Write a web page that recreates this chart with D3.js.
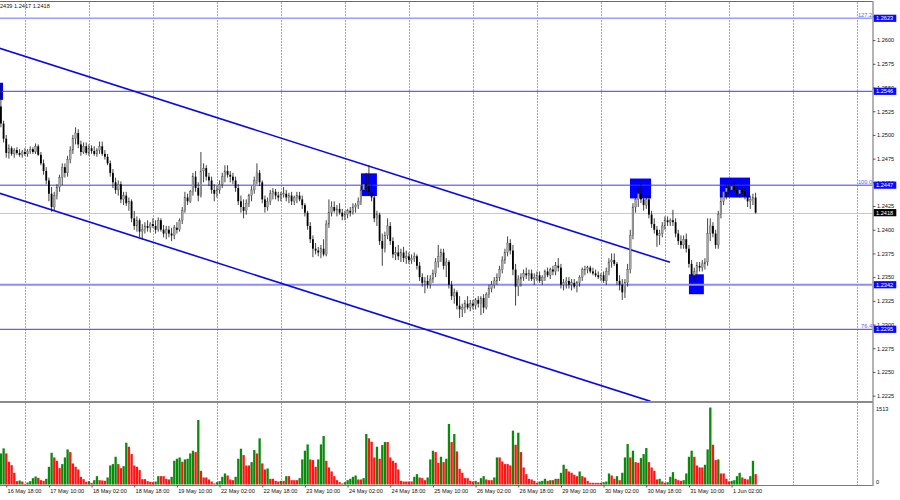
<!DOCTYPE html>
<html><head><meta charset="utf-8">
<script src="https://cdn.jsdelivr.net/npm/d3@7/dist/d3.min.js"></script>
<style>
body{margin:0;background:#fff;}
svg{display:block;}
text{font-family:"Liberation Sans",Arial,sans-serif;}
</style>
</head><body>
<svg id="c" width="900" height="500"></svg>
<script>
// ---------- DATA (prices given as pips above BASE: price = BASE + v/10000) ----------
const BASE = 1.2;
const openP = [
530,512,496,481,486,480,484,481,479,482, 480,483,485,482,488,479,470,462,452,438,
424,436,445,455,466,460,474,484,496,502, 490,482,488,481,486,483,480,484,488,480,
477,470,460,450,442,448,432,436,428,430, 412,404,410,398,400,404,402,406,404,400,
410,400,396,400,396,394,402,400,410,420, 434,430,440,456,444,436,462,465,456,452,
442,438,442,448,456,462,458,456,452,444, 430,424,420,428,436,442,452,460,450,432,
424,430,438,440,436,434,437,438,434,436, 430,434,436,432,426,418,404,390,380,378,
376,380,374,406,418,424,420,422,418,414, 416,420,418,424,426,430,442,448,446,440,
434,412,416,388,380,394,404,388,374,376, 372,376,370,372,368,370,372,362,350,344,
346,342,348,354,366,372,376,362,366,342, 330,334,320,316,318,322,318,322,320,326,
322,328,318,332,338,342,346,350,358,368, 376,386,378,358,340,348,350,354,352,354,
348,350,352,346,350,356,352,358,356,362, 360,342,344,346,342,344,340,344,350,358,
358,360,356,354,352,350,352,346,356,366, 368,364,346,342,334,344,358,394,424,432,
438,432,426,432,416,406,400,394,396,404, 410,408,410,408,396,388,384,390,380,364,
352,356,362,360,364,366,396,404,396,384, 416,430,440,444,442,446,442,438,442,440,
436,430,432,434];
const highP = [
552,515,500,490,488,486,487,485,484,486, 485,488,487,491,490,482,474,466,455,445,
440,448,458,470,470,478,488,500,508,506, 494,492,492,490,489,488,486,493,493,484,
480,473,464,455,452,451,440,440,434,432, 420,414,412,406,408,410,408,412,410,413,
412,405,404,404,402,405,408,412,424,440, 438,442,460,462,450,482,470,468,460,456,
448,446,452,460,468,468,462,460,456,448, 436,432,432,438,446,456,470,463,452,436,
434,442,444,443,440,440,445,442,439,440, 436,440,440,436,428,420,408,394,386,382,
384,390,410,432,430,430,426,428,422,420, 422,424,428,428,434,446,452,460,468,448,
436,420,418,396,398,412,408,392,382,384, 380,382,378,376,374,376,374,366,354,350,
352,352,358,370,384,380,380,370,368,346, 338,336,330,322,326,330,326,326,328,330,
330,332,334,342,346,350,354,362,372,380, 393,390,384,364,352,354,358,360,358,358,
354,356,356,352,358,360,360,362,366,370, 364,348,350,350,348,348,346,352,360,362,
362,362,360,358,356,354,356,360,370,375, 375,366,352,348,348,364,400,428,438,444,
448,440,436,436,420,412,404,400,408,414, 414,412,421,412,400,394,394,396,384,368,
360,366,366,368,370,412,412,408,400,420, 436,446,448,450,448,450,446,446,446,444,
440,436,438,439];
const lowP = [
508,492,476,475,478,476,479,477,476,478, 477,480,480,480,478,468,458,448,430,419,
420,432,440,447,455,456,470,480,490,486, 478,480,479,478,480,478,477,480,478,474,
468,456,444,438,436,428,426,425,420,408, 400,398,392,390,396,398,397,402,396,398,
398,392,390,392,388,390,396,398,406,418, 426,428,436,440,430,434,450,452,446,438,
430,434,438,444,450,455,450,448,440,426, 418,412,416,424,430,438,448,446,428,418,
420,426,432,432,430,430,434,430,428,426, 426,428,430,422,414,400,386,371,374,372,
370,372,372,402,414,418,414,416,410,410, 412,414,416,418,422,426,438,440,436,430,
408,404,384,362,376,390,384,370,368,368, 366,366,364,364,364,366,358,346,340,333,
338,338,344,350,360,366,358,350,338,326, 322,316,307,308,312,316,314,316,316,318,
310,312,316,328,334,338,342,346,354,364, 372,374,352,320,330,340,346,348,346,346,
342,346,344,342,346,350,348,352,352,356, 338,336,338,338,336,338,334,340,346,352,
354,354,352,350,348,346,344,342,352,360, 362,342,336,326,328,340,354,390,418,424,
428,420,422,412,402,396,382,384,392,400, 404,404,404,392,384,380,380,376,360,346,
346,352,356,356,358,362,388,392,380,380, 412,426,432,438,436,440,434,434,436,432,
424,422,426,417];
const closeP = [
512,496,481,486,480,484,481,479,482,480, 483,485,482,488,479,470,462,452,438,424,
436,445,455,466,460,474,484,496,502,490, 482,488,481,486,483,480,484,488,480,477,
470,460,450,442,448,432,436,428,430,412, 404,410,398,400,404,402,406,404,400,410,
400,396,400,396,394,402,400,410,420,434, 430,440,456,444,436,462,465,456,452,442,
438,442,448,456,462,458,456,452,444,430, 424,420,428,436,442,452,460,450,432,424,
430,438,440,436,434,437,438,434,436,430, 434,436,432,426,418,404,390,380,378,376,
380,374,406,418,424,420,422,418,414,416, 420,418,424,426,430,442,448,446,440,434,
412,416,388,380,394,404,388,374,376,372, 376,370,372,368,370,372,362,350,344,346,
342,348,354,366,372,376,362,366,342,330, 334,320,316,318,322,318,322,320,326,322,
328,318,332,338,342,346,350,358,368,376, 386,378,358,340,348,350,354,352,354,348,
350,352,346,350,356,352,358,356,362,360, 342,344,346,342,344,340,344,350,358,358,
360,356,354,352,350,352,346,356,366,368, 364,346,342,334,344,358,394,424,432,438,
432,426,432,416,406,400,394,396,404,410, 408,410,408,396,388,384,390,380,364,352,
356,362,360,364,366,396,404,396,384,416, 430,440,444,442,446,442,438,442,440,436,
430,432,434,418];
const volumes = [
611,710,611,447,381,230,66,79,59,13, 39,66,125,158,131,85,72,112,348,624,
532,466,322,401,532,690,637,414,348,296, 151,105,53,66,33,85,164,85,79,72,
138,374,401,545,401,322,361,821,742,598, 374,348,283,105,105,66,53,46,59,164,
164,164,112,99,151,466,506,532,447,493, 506,611,664,637,1268,269,138,138,99,59,
20,46,66,151,217,177,99,85,151,506, 703,578,374,374,440,677,611,907,414,296,
315,112,112,72,59,72,72,164,164,85, 85,85,125,493,664,788,493,480,348,493,
788,953,466,335,256,164,85,46,20,46, 85,112,151,177,99,99,125,992,907,841,
532,742,506,775,834,834,532,466,427,296, 72,59,59,59,59,151,204,138,125,85,
138,493,664,637,427,545,440,506,1189,834, 992,650,309,230,125,125,72,59,72,46,
125,164,99,85,85,138,532,532,453,401, 401,374,1058,782,1018,637,335,204,112,99,
72,33,59,72,112,72,85,85,112,112, 230,388,309,256,230,191,164,256,164,138,
72,33,33,33,33,33,46,59,217,177, 112,164,85,230,532,795,532,664,440,427,
519,598,716,440,335,269,99,112,59,33, 46,151,243,112,85,72,85,217,545,664,
545,374,335,335,388,690,1513,782,480,493, 217,217,112,59,72,85,164,230,138,112,
99,164,466,204];
const volumeMax = 1513;

const timeLabelBars = [-14,2,18,34,50,66,82,98,114,130,146,162,178,194,210,226,242,258,274];
const timeLabelTexts = ["16 May 02:00","16 May 18:00","17 May 10:00","18 May 02:00","18 May 18:00","19 May 10:00",
  "22 May 02:00","22 May 18:00","23 May 10:00","24 May 02:00","24 May 18:00","25 May 10:00",
  "26 May 02:00","26 May 18:00","29 May 10:00","30 May 02:00","30 May 18:00","31 May 10:00","1 Jun 02:00"];
const gridBars = [9,33,57,81,105,129,153,177,201,225,249,273,297,321];
const priceTicks = [1.2625,1.2600,1.2575,1.2550,1.2525,1.2500,1.2475,1.2450,1.2425,1.2400,1.2375,1.2350,1.2325,1.2300,1.2275,1.2250,1.2225];
const levelPrices = [1.2623,1.2546,1.2447,1.2342,1.2295];
const fibTexts = ["127.2","100.0","76.4"];
const fibPrices = [1.2623,1.2447,1.2295];
const bidPrice = 1.2418;
const boxStartBar = [-0.6,135,235.9,258,269.6];
const boxEndBar   = [0.8,141,243.8,263.6,280.9];
const boxTopPrice = [1.2555,1.24595,1.2454,1.2353,1.2455];
const boxBotPrice = [1.2537,1.24355,1.2433,1.2332,1.2434];
const channelUpperBars = [-0.5,250.9], channelUpperPrices = [1.25914,1.23657];
const channelLowerBars = [-0.5,243.6], channelLowerPrices = [1.24385,1.22190];
const headerText = "2439 1.2417 1.2418";

// ---------- DRAWING ----------
const P = v => BASE + v/10000;
const svg = d3.select("#c");
const x = d3.scaleLinear().domain([0,283]).range([0.9,755.6]);
const y = d3.scaleLinear().domain([1.2295,1.2623]).range([329.3,18.3]);
const yv = d3.scaleLinear().domain([0,volumeMax]).range([484.5,407.5]);
const AX = 873;

const defs = svg.append("defs");
defs.append("clipPath").attr("id","cm").append("rect").attr("x",0).attr("y",2).attr("width",AX-0.5).attr("height",399);
defs.append("clipPath").attr("id","cv").append("rect").attr("x",0).attr("y",403).attr("width",AX-0.5).attr("height",82);

const main = svg.append("g").attr("clip-path","url(#cm)");
const vol = svg.append("g").attr("clip-path","url(#cv)");

// grid
[[2,401,main],[403,485,vol]].forEach(([y0,y1,g])=>{
  g.selectAll(null).data(gridBars).enter().append("line")
    .attr("x1",d=>Math.round(x(d))+0.5).attr("x2",d=>Math.round(x(d))+0.5)
    .attr("y1",y0).attr("y2",y1)
    .attr("stroke","#a8a8a8").attr("stroke-width",1).attr("stroke-dasharray","2,1");
});

// rectangles
main.selectAll(null).data(boxStartBar).enter().append("rect")
  .attr("x",(d,i)=>x(d)).attr("width",(d,i)=>x(boxEndBar[i])-x(d))
  .attr("y",(d,i)=>y(boxTopPrice[i])).attr("height",(d,i)=>y(boxBotPrice[i])-y(boxTopPrice[i]))
  .attr("fill","#0000ff");

// horizontal levels
const levelStroke = ["#9c9cff","#3a3aff","#3a3aff","#8c8cff","#3a3aff"];
const levelWidth = [1.6,1,1,1.8,1];
main.selectAll(null).data(levelPrices).enter().append("line")
  .attr("x1",0).attr("x2",AX).attr("y1",d=>y(d)).attr("y2",d=>y(d))
  .attr("stroke",(d,i)=>levelStroke[i]).attr("stroke-width",(d,i)=>levelWidth[i]);
main.append("line").attr("x1",0).attr("x2",AX).attr("y1",Math.round(y(bidPrice))+0.5).attr("y2",Math.round(y(bidPrice))+0.5)
  .attr("stroke","#c8c8c8").attr("stroke-width",1);

// channel
[[channelUpperBars,channelUpperPrices],[channelLowerBars,channelLowerPrices]].forEach(([b,p])=>{
  main.append("line").attr("x1",x(b[0])).attr("y1",y(p[0])).attr("x2",x(b[1])).attr("y2",y(p[1]))
    .attr("stroke","#0a0ae6").attr("stroke-width",1.6);
});

// candles
const idx = d3.range(closeP.length);
const cg = main.append("g");
cg.selectAll(null).data(idx).enter().append("line")
  .attr("x1",i=>x(i)).attr("x2",i=>x(i))
  .attr("y1",i=>y(P(highP[i]))).attr("y2",i=>y(P(lowP[i])))
  .attr("stroke","#111").attr("stroke-width",0.8);
cg.selectAll(null).data(idx).enter().append("rect")
  .attr("x",i=>x(i)-0.9).attr("width",1.8)
  .attr("y",i=>y(P(Math.max(openP[i],closeP[i]))))
  .attr("height",i=>Math.max(0.8,Math.abs(y(P(openP[i]))-y(P(closeP[i])))))
  .attr("fill",i=>closeP[i]>=openP[i]?"#a4a4a4":"#000")
  .attr("stroke",i=>closeP[i]>=openP[i]?"#444":"none").attr("stroke-width",0.3);

// volumes
vol.selectAll(null).data(idx).enter().append("rect")
  .attr("x",i=>x(i)-1.1).attr("width",2.3)
  .attr("y",i=>yv(volumes[i])).attr("height",i=>yv(0)-yv(volumes[i]))
  .attr("fill",i=>(i===0||volumes[i]>volumes[i-1])?"#0a8a0a":"#ff1414");

// frame lines
svg.append("line").attr("x1",0).attr("x2",AX).attr("y1",1.5).attr("y2",1.5).attr("stroke","#6a6a6a").attr("stroke-width",1.2);
svg.append("line").attr("x1",0).attr("x2",AX).attr("y1",402).attr("y2",402).attr("stroke","#8a8a8a").attr("stroke-width",2);
svg.append("line").attr("x1",0).attr("x2",AX).attr("y1",485.5).attr("y2",485.5).attr("stroke","#7a7a7a").attr("stroke-width",1.2);
svg.append("line").attr("x1",AX).attr("x2",AX).attr("y1",1).attr("y2",486).attr("stroke","#9a9a9a").attr("stroke-width",1.5);

// price axis
const fs = 5.6;
const pa = svg.append("g").attr("transform",`translate(${AX},0)`)
  .call(d3.axisRight(y).tickValues(priceTicks).tickSize(2.5).tickPadding(1.5).tickFormat(d3.format(".4f")));
pa.select(".domain").remove();
pa.selectAll("line").attr("stroke","#333").attr("stroke-width",0.8);
pa.selectAll("text").attr("font-size",fs).attr("fill","#111").attr("font-family","Liberation Sans, Arial, sans-serif");

// level boxes
const lb = svg.append("g");
levelPrices.forEach((p)=>{
  lb.append("rect").attr("x",AX+0.8).attr("y",y(p)-3.6).attr("width",22.5).attr("height",7.2).attr("fill","#0a0aff");
  lb.append("text").attr("x",AX+3).attr("y",y(p)+2).attr("font-size",fs).attr("fill","#fff").text(d3.format(".4f")(p));
});
lb.append("rect").attr("x",AX+0.8).attr("y",y(bidPrice)-3.6).attr("width",22.5).attr("height",7.2).attr("fill","#000");
lb.append("text").attr("x",AX+3).attr("y",y(bidPrice)+2).attr("font-size",fs).attr("fill","#fff").text(d3.format(".4f")(bidPrice));

// fib labels
fibPrices.forEach((p,i)=>{
  svg.append("text").attr("x",AX-1).attr("y",y(p)-1.3).attr("text-anchor","end")
    .attr("font-size",fs).attr("fill","#5a5aff").text(fibTexts[i]);
});

// volume axis
const va = svg.append("g").attr("transform",`translate(${AX},0)`)
  .call(d3.axisRight(yv).tickValues([volumeMax,0]).tickSize(0).tickPadding(3).tickFormat(d3.format("d")));
va.select(".domain").remove();
va.selectAll("text").attr("font-size",fs).attr("fill","#111").attr("font-family","Liberation Sans, Arial, sans-serif")
  .attr("dy",(d)=>d===0?"-0.2em":"0.5em");

// time axis
const ta = svg.append("g").attr("transform","translate(0,485.5)")
  .call(d3.axisBottom(x).tickValues(timeLabelBars).tickSize(2).tickPadding(2).tickFormat((d,i)=>timeLabelTexts[i]));
ta.select(".domain").remove();
ta.selectAll("line").attr("stroke","#333").attr("stroke-width",0.8);
ta.selectAll("text").attr("font-size",fs).attr("fill","#111").attr("text-anchor","start").attr("dx","0.15em")
  .attr("font-family","Liberation Sans, Arial, sans-serif");

// header
svg.append("text").attr("x",0).attr("y",8).attr("font-size",fs).attr("fill","#111").text(headerText);
</script>
</body></html>
